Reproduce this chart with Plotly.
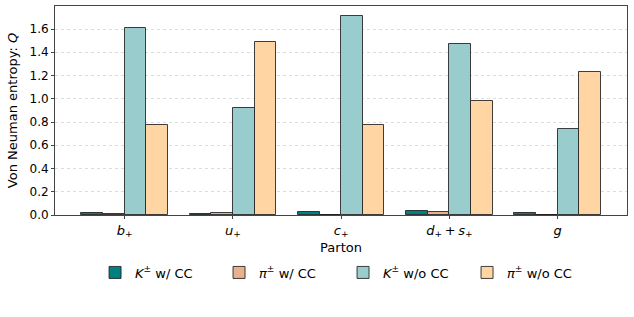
import plotly.graph_objects as go

partons = ["<i>b</i><sub>+</sub>", "<i>u</i><sub>+</sub>", "<i>c</i><sub>+</sub>",
           "<i>d</i><sub>+</sub>\u2009+\u2009<i>s</i><sub>+</sub>", "<i>g</i>"]
k_wcc = [0.020, 0.012, 0.025, 0.032, 0.015]
pi_wcc = [0.005, 0.020, 0.003, 0.023, 0.003]
k_wocc = [1.611, 0.923, 1.712, 1.468, 0.740]
pi_wocc = [0.772, 1.488, 0.772, 0.983, 1.227]

series = [
    ("<i>K</i><sup>±</sup> w/ CC", k_wcc, "#008080"),
    ("<i>π</i><sup>±</sup> w/ CC", pi_wcc, "#E9B08E"),
    ("<i>K</i><sup>±</sup> w/o CC", k_wocc, "#99CCCC"),
    ("<i>π</i><sup>±</sup> w/o CC", pi_wocc, "#FFD6A3"),
]
offsets = [-0.3, -0.1, 0.1, 0.3]
xs = list(range(len(partons)))

fig = go.Figure()
for (name, vals, col), off in zip(series, offsets):
    fig.add_trace(go.Bar(
        x=[x + off for x in xs], y=vals, name=name, width=0.2,
        marker=dict(color=col, line=dict(color="rgba(30,30,30,0.85)", width=1)),
    ))

fig.update_layout(
    width=634, height=317,
    margin=dict(l=55, r=7, t=6, b=102, autoexpand=False),
    plot_bgcolor="white", paper_bgcolor="white",
    font=dict(family="DejaVu Sans", size=13, color="black"),
    barmode="overlay", bargap=0,
    showlegend=True,
    legend=dict(orientation="h", x=0.07, xanchor="left", y=-0.275, yanchor="middle",
                font=dict(size=13), itemwidth=30, entrywidth=79, entrywidthmode="pixels",
                traceorder="normal"),
)
fig.update_xaxes(
    tickvals=xs, ticktext=partons, range=[-0.643, 4.64],
    showline=True, mirror=True, linecolor="#444", linewidth=1,
    ticks="outside", ticklen=3, tickcolor="#444", showgrid=False, zeroline=False,
    automargin=False,
    title=dict(text="Parton", font=dict(size=13), standoff=4),
    tickfont=dict(size=13),
)
fig.update_yaxes(
    range=[0, 1.798], tickvals=[0, 0.2, 0.4, 0.6, 0.8, 1.0, 1.2, 1.4, 1.6],
    tickformat=".1f",
    showline=True, mirror=True, linecolor="#444", linewidth=1,
    ticks="outside", ticklen=3, tickcolor="#444",
    showgrid=True, gridcolor="#dddddd", griddash="dot", gridwidth=1, zeroline=False,
    automargin=False,
    title=dict(text="Von Neuman entropy: <i>Q</i>", font=dict(size=13), standoff=8),
    tickfont=dict(size=12),
)
fig.write_html("out.html", config={"displayModeBar": False},
               post_script="document.body.style.margin='0';document.body.style.padding='0';")
